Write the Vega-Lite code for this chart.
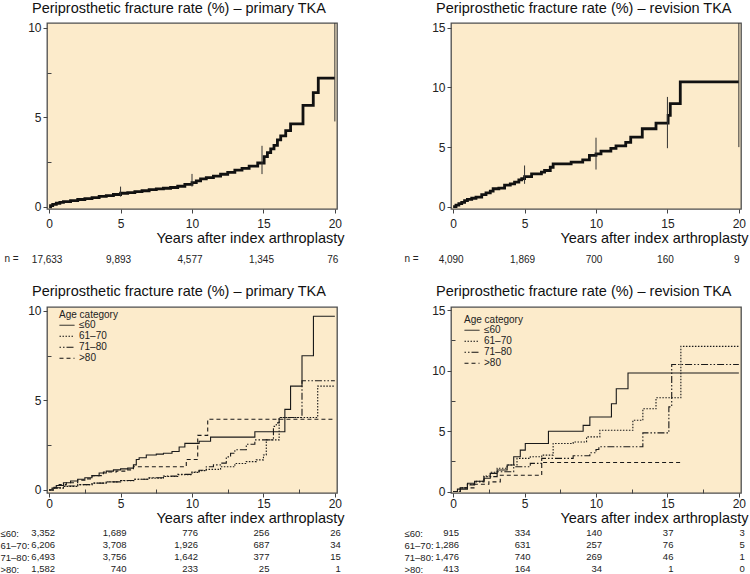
{
  "$schema": "https://vega.github.io/schema/vega-lite/v6.json",
  "padding": {"left": 0, "top": 0, "right": 2, "bottom": 0},
  "background": "white",
  "config": {
    "font": "Liberation Sans",
    "view": {"stroke": "#4d4d4d", "strokeWidth": 1.3, "fill": "#FCEBCB"},
    "axis": {"domain": false, "grid": false, "tickColor": "#444", "labelColor": "#222", "labelFontSize": 12, "titleColor": "#111", "titleFontWeight": "normal"},
    "title": {"fontWeight": "normal", "fontSize": 14.5, "color": "#111", "anchor": "start", "frame": "group", "dx": -15, "baseline": "alphabetic", "offset": 5},
    "legend": {"orient": "none", "titleFontSize": 10, "titleFontWeight": "normal", "titleColor": "#222", "labelFontSize": 10, "labelColor": "#222", "symbolType": "stroke", "symbolSize": 225, "symbolStrokeWidth": 1, "symbolStrokeColor": "#111", "clipHeight": 8.5, "rowPadding": 0, "titlePadding": 1, "labelOffset": 4, "padding": 0}
  },
  "columns": 2,
  "bounds": "flush",
  "spacing": {"row": 40, "column": 114},
  "resolve": {"scale": {"strokeDash": "independent"}, "legend": {"strokeDash": "independent"}},
  "datasets": {
    "p1": [
      {"t":0,"r":0},{"t":0.1,"r":0.07},{"t":0.25,"r":0.14},{"t":0.5,"r":0.2},{"t":0.75,"r":0.25},{"t":1,"r":0.29},{"t":1.5,"r":0.35},{"t":2,"r":0.41},{"t":2.5,"r":0.46},{"t":3,"r":0.52},{"t":3.5,"r":0.58},{"t":4,"r":0.63},{"t":4.5,"r":0.69},{"t":5,"r":0.76},{"t":5.5,"r":0.8},{"t":6,"r":0.85},{"t":6.5,"r":0.9},{"t":7,"r":0.96},{"t":7.5,"r":1.0},{"t":8,"r":1.04},{"t":8.5,"r":1.08},{"t":9,"r":1.15},{"t":9.5,"r":1.25},{"t":10,"r":1.35},{"t":10.3,"r":1.45},{"t":10.6,"r":1.56},{"t":11,"r":1.63},{"t":11.5,"r":1.72},{"t":12,"r":1.82},{"t":12.5,"r":1.93},{"t":13,"r":2.05},{"t":13.5,"r":2.15},{"t":14,"r":2.28},{"t":14.6,"r":2.45},{"t":15.05,"r":2.81},{"t":15.28,"r":3.03},{"t":15.51,"r":3.24},{"t":15.74,"r":3.43},{"t":15.98,"r":3.74},{"t":16.21,"r":3.97},{"t":16.56,"r":4.26},{"t":16.9,"r":4.64},{"t":17.77,"r":5.67},{"t":18.49,"r":6.38},{"t":18.84,"r":7.19},{"t":20,"r":7.19}
    ],
    "ci1": [
      {"t":5,"lo":0.57,"hi":1.13},{"t":10,"lo":1.13,"hi":1.84},{"t":14.9,"lo":1.83,"hi":3.41},{"t":20,"lo":4.77,"hi":10.5}
    ],
    "p2": [
      {"t":0,"r":0},{"t":0.2,"r":0.12},{"t":0.4,"r":0.25},{"t":0.6,"r":0.35},{"t":0.8,"r":0.5},{"t":1.0,"r":0.6},{"t":1.3,"r":0.7},{"t":1.6,"r":0.8},{"t":2.0,"r":1.0},{"t":2.3,"r":1.15},{"t":2.6,"r":1.3},{"t":2.8,"r":1.5},{"t":3.2,"r":1.55},{"t":3.6,"r":1.8},{"t":4.0,"r":1.9},{"t":4.3,"r":2.05},{"t":4.6,"r":2.25},{"t":4.8,"r":2.35},{"t":5.0,"r":2.52},{"t":5.49,"r":2.75},{"t":6.18,"r":2.89},{"t":6.4,"r":3.03},{"t":6.8,"r":3.3},{"t":7.0,"r":3.59},{"t":8.26,"r":3.73},{"t":9.07,"r":3.92},{"t":9.54,"r":4.29},{"t":10.0,"r":4.43},{"t":10.35,"r":4.65},{"t":11.04,"r":4.88},{"t":11.4,"r":5.1},{"t":12.08,"r":5.38},{"t":12.43,"r":5.83},{"t":13.24,"r":6.53},{"t":14.2,"r":7.0},{"t":15.05,"r":7.65},{"t":15.2,"r":8.63},{"t":15.9,"r":10.46},{"t":20,"r":10.46}
    ],
    "ci2": [
      {"t":5,"lo":1.91,"hi":3.45},{"t":10,"lo":3.11,"hi":5.78},{"t":15,"lo":4.9,"hi":9.2},{"t":20,"lo":4.99,"hi":15.5}
    ],
    "p3": [
      {"age":"≤60","t":0,"r":0},{"age":"≤60","t":0.2,"r":0.1},{"age":"≤60","t":0.5,"r":0.25},{"age":"≤60","t":1,"r":0.4},{"age":"≤60","t":1.5,"r":0.5},{"age":"≤60","t":2,"r":0.6},{"age":"≤60","t":2.5,"r":0.68},{"age":"≤60","t":3,"r":0.8},{"age":"≤60","t":3.5,"r":0.95},{"age":"≤60","t":4,"r":1.05},{"age":"≤60","t":4.5,"r":1.12},{"age":"≤60","t":5,"r":1.18},{"age":"≤60","t":5.5,"r":1.22},{"age":"≤60","t":5.9,"r":1.4},{"age":"≤60","t":6.1,"r":1.7},{"age":"≤60","t":6.3,"r":1.8},{"age":"≤60","t":6.8,"r":1.95},{"age":"≤60","t":7.5,"r":2.0},{"age":"≤60","t":8,"r":2.05},{"age":"≤60","t":8.6,"r":2.15},{"age":"≤60","t":9.1,"r":2.4},{"age":"≤60","t":9.5,"r":2.6},{"age":"≤60","t":10.5,"r":2.72},{"age":"≤60","t":11.3,"r":2.95},{"age":"≤60","t":14.4,"r":3.25},{"age":"≤60","t":16.5,"r":4.5},{"age":"≤60","t":16.9,"r":5.8},{"age":"≤60","t":17.7,"r":7.5},{"age":"≤60","t":18.5,"r":9.7},{"age":"≤60","t":20,"r":9.7},
      {"age":"61–70","t":0,"r":0},{"age":"61–70","t":0.3,"r":0.1},{"age":"61–70","t":1,"r":0.2},{"age":"61–70","t":2,"r":0.3},{"age":"61–70","t":3,"r":0.38},{"age":"61–70","t":4,"r":0.45},{"age":"61–70","t":5,"r":0.52},{"age":"61–70","t":6,"r":0.6},{"age":"61–70","t":7,"r":0.66},{"age":"61–70","t":8,"r":0.75},{"age":"61–70","t":9,"r":0.85},{"age":"61–70","t":10,"r":0.98},{"age":"61–70","t":10.5,"r":1.08},{"age":"61–70","t":11,"r":1.15},{"age":"61–70","t":12,"r":1.3},{"age":"61–70","t":13,"r":1.48},{"age":"61–70","t":13.8,"r":1.58},{"age":"61–70","t":14.5,"r":1.68},{"age":"61–70","t":15,"r":1.95},{"age":"61–70","t":15.2,"r":2.8},{"age":"61–70","t":16.1,"r":4.05},{"age":"61–70","t":18.8,"r":5.8},{"age":"61–70","t":20,"r":5.8},
      {"age":"71–80","t":0,"r":0},{"age":"71–80","t":0.3,"r":0.12},{"age":"71–80","t":1,"r":0.22},{"age":"71–80","t":2,"r":0.3},{"age":"71–80","t":3,"r":0.38},{"age":"71–80","t":4,"r":0.45},{"age":"71–80","t":5,"r":0.53},{"age":"71–80","t":6,"r":0.6},{"age":"71–80","t":7,"r":0.68},{"age":"71–80","t":8,"r":0.77},{"age":"71–80","t":9,"r":0.87},{"age":"71–80","t":10,"r":1.0},{"age":"71–80","t":10.5,"r":1.1},{"age":"71–80","t":11,"r":1.3},{"age":"71–80","t":11.5,"r":1.4},{"age":"71–80","t":12,"r":1.5},{"age":"71–80","t":12.4,"r":1.85},{"age":"71–80","t":12.7,"r":2.05},{"age":"71–80","t":13,"r":2.25},{"age":"71–80","t":13.8,"r":2.55},{"age":"71–80","t":14.4,"r":2.8},{"age":"71–80","t":15.7,"r":3.55},{"age":"71–80","t":15.9,"r":3.75},{"age":"71–80","t":16.1,"r":4.05},{"age":"71–80","t":17.7,"r":6.1},{"age":"71–80","t":20,"r":6.1},
      {"age":">80","t":0,"r":0},{"age":">80","t":0.3,"r":0.15},{"age":">80","t":0.7,"r":0.3},{"age":">80","t":1.2,"r":0.4},{"age":">80","t":2,"r":0.55},{"age":">80","t":2.5,"r":0.62},{"age":">80","t":3,"r":0.8},{"age":">80","t":3.8,"r":1.0},{"age":">80","t":4.7,"r":1.05},{"age":">80","t":5.4,"r":1.12},{"age":">80","t":5.9,"r":1.3},{"age":">80","t":9.6,"r":1.7},{"age":">80","t":10.4,"r":3.05},{"age":">80","t":11.1,"r":3.95},{"age":">80","t":20,"r":3.95}
    ],
    "p4": [
      {"age":"≤60","t":0,"r":0},{"age":"≤60","t":0.3,"r":0.2},{"age":"≤60","t":1,"r":0.68},{"age":"≤60","t":1.5,"r":0.85},{"age":"≤60","t":2.16,"r":1.1},{"age":"≤60","t":2.6,"r":1.5},{"age":"≤60","t":3.08,"r":1.78},{"age":"≤60","t":3.78,"r":2.19},{"age":"≤60","t":4.24,"r":2.87},{"age":"≤60","t":4.7,"r":3.42},{"age":"≤60","t":5.05,"r":3.97},{"age":"≤60","t":6.67,"r":4.98},{"age":"≤60","t":9.1,"r":5.47},{"age":"≤60","t":9.57,"r":6.16},{"age":"≤60","t":11.08,"r":7.25},{"age":"≤60","t":11.42,"r":8.49},{"age":"≤60","t":12.24,"r":9.8},{"age":"≤60","t":20,"r":9.8},
      {"age":"61–70","t":0,"r":0},{"age":"61–70","t":0.5,"r":0.3},{"age":"61–70","t":1,"r":0.6},{"age":"61–70","t":1.5,"r":0.85},{"age":"61–70","t":2.16,"r":1.29},{"age":"61–70","t":2.6,"r":1.6},{"age":"61–70","t":3.08,"r":1.92},{"age":"61–70","t":3.78,"r":2.2},{"age":"61–70","t":4.47,"r":2.74},{"age":"61–70","t":5.4,"r":2.87},{"age":"61–70","t":6.2,"r":3.01},{"age":"61–70","t":7.0,"r":3.97},{"age":"61–70","t":8.4,"r":4.1},{"age":"61–70","t":9.34,"r":4.52},{"age":"61–70","t":10.27,"r":5.06},{"age":"61–70","t":12.58,"r":5.89},{"age":"61–70","t":13.28,"r":6.84},{"age":"61–70","t":14.2,"r":7.75},{"age":"61–70","t":15.94,"r":12.0},{"age":"61–70","t":20,"r":12.0},
      {"age":"71–80","t":0,"r":0},{"age":"71–80","t":0.5,"r":0.3},{"age":"71–80","t":1,"r":0.55},{"age":"71–80","t":1.5,"r":0.8},{"age":"71–80","t":2.16,"r":1.23},{"age":"71–80","t":3.08,"r":1.64},{"age":"71–80","t":4.24,"r":2.05},{"age":"71–80","t":5.4,"r":2.33},{"age":"71–80","t":6.2,"r":2.74},{"age":"71–80","t":8.4,"r":2.96},{"age":"71–80","t":9.57,"r":3.2},{"age":"71–80","t":10.0,"r":3.48},{"age":"71–80","t":10.2,"r":3.7},{"age":"71–80","t":13.28,"r":4.85},{"age":"71–80","t":15.1,"r":7.0},{"age":"71–80","t":15.3,"r":10.5},{"age":"71–80","t":20,"r":10.5},
      {"age":">80","t":0,"r":0},{"age":">80","t":0.5,"r":0.3},{"age":">80","t":1.5,"r":0.6},{"age":">80","t":2.5,"r":0.8},{"age":">80","t":3.3,"r":1.35},{"age":">80","t":6.2,"r":2.4},{"age":">80","t":16.06,"r":2.4}
    ],
    "n1": [
      {"row":"n =","t":0,"n":"17,633"},{"row":"n =","t":5,"n":"9,893"},{"row":"n =","t":10,"n":"4,577"},{"row":"n =","t":15,"n":"1,345"},{"row":"n =","t":20,"n":"76"}
    ],
    "n2": [
      {"row":"n =","t":0,"n":"4,090"},{"row":"n =","t":5,"n":"1,869"},{"row":"n =","t":10,"n":"700"},{"row":"n =","t":15,"n":"160"},{"row":"n =","t":20,"n":"9"}
    ],
    "n3": [
      {"row":"≤60:","t":0,"n":"3,352"},{"row":"≤60:","t":5,"n":"1,689"},{"row":"≤60:","t":10,"n":"776"},{"row":"≤60:","t":15,"n":"256"},{"row":"≤60:","t":20,"n":"26"},
      {"row":"61–70:","t":0,"n":"6,206"},{"row":"61–70:","t":5,"n":"3,708"},{"row":"61–70:","t":10,"n":"1,926"},{"row":"61–70:","t":15,"n":"687"},{"row":"61–70:","t":20,"n":"34"},
      {"row":"71–80:","t":0,"n":"6,493"},{"row":"71–80:","t":5,"n":"3,756"},{"row":"71–80:","t":10,"n":"1,642"},{"row":"71–80:","t":15,"n":"377"},{"row":"71–80:","t":20,"n":"15"},
      {"row":">80:","t":0,"n":"1,582"},{"row":">80:","t":5,"n":"740"},{"row":">80:","t":10,"n":"233"},{"row":">80:","t":15,"n":"25"},{"row":">80:","t":20,"n":"1"}
    ],
    "n4": [
      {"row":"≤60:","t":0,"n":"915"},{"row":"≤60:","t":5,"n":"334"},{"row":"≤60:","t":10,"n":"140"},{"row":"≤60:","t":15,"n":"37"},{"row":"≤60:","t":20,"n":"3"},
      {"row":"61–70:","t":0,"n":"1,286"},{"row":"61–70:","t":5,"n":"631"},{"row":"61–70:","t":10,"n":"257"},{"row":"61–70:","t":15,"n":"76"},{"row":"61–70:","t":20,"n":"5"},
      {"row":"71–80:","t":0,"n":"1,476"},{"row":"71–80:","t":5,"n":"740"},{"row":"71–80:","t":10,"n":"269"},{"row":"71–80:","t":15,"n":"46"},{"row":"71–80:","t":20,"n":"1"},
      {"row":">80:","t":0,"n":"413"},{"row":">80:","t":5,"n":"164"},{"row":">80:","t":10,"n":"34"},{"row":">80:","t":15,"n":"1"},{"row":">80:","t":20,"n":"0"}
    ]
  },
  "concat": [
    {
      "width": 290, "height": 186,
      "title": {"text": "Periprosthetic fracture rate (%) – primary TKA"},
      "layer": [
        {
          "data": {"name": "p1"},
          "mark": {"type": "line", "interpolate": "step-after", "color": "#111", "strokeWidth": 2.8, "clip": true},
          "encoding": {
            "x": {"field": "t", "type": "quantitative", "scale": {"domain": [-0.15, 20.15], "nice": false, "zero": false},
              "axis": {"values": [0,2.5,5,7.5,10,12.5,15,17.5,20], "labelExpr": "datum.value % 5 == 0 ? datum.label : ''", "tickSize": {"condition": {"test": "datum.value % 5 != 0", "value": -4}, "value": 4}, "labelPadding": 5, "labelOverlap": false, "labelFlush": false, "title": "Years after index arthroplasty", "titleFontSize": 14.5, "titleAlign": "right", "titleAnchor": "end", "titleX": 297, "titlePadding": 2}},
            "y": {"field": "r", "type": "quantitative", "scale": {"domain": [-0.12, 10.27], "nice": false, "zero": false},
              "axis": {"values": [0,2.5,5,7.5,10], "labelExpr": "datum.value % 5 == 0 ? datum.label : ''", "tickSize": {"condition": {"test": "datum.value % 5 != 0", "value": -4}, "value": 4}, "labelPadding": 2, "labelOverlap": false, "title": null}}
          }
        },
        {
          "data": {"name": "ci1"},
          "mark": {"type": "rule", "color": "#333", "strokeWidth": 1, "clip": true},
          "encoding": {"x": {"field": "t", "type": "quantitative"}, "y": {"field": "lo", "type": "quantitative"}, "y2": {"field": "hi"}}
        }
      ]
    },
    {
      "width": 290, "height": 186,
      "title": {"text": "Periprosthetic fracture rate (%) – revision TKA"},
      "layer": [
        {
          "data": {"name": "p2"},
          "mark": {"type": "line", "interpolate": "step-after", "color": "#111", "strokeWidth": 2.8, "clip": true},
          "encoding": {
            "x": {"field": "t", "type": "quantitative", "scale": {"domain": [-0.15, 20.15], "nice": false, "zero": false},
              "axis": {"values": [0,2.5,5,7.5,10,12.5,15,17.5,20], "labelExpr": "datum.value % 5 == 0 ? datum.label : ''", "tickSize": {"condition": {"test": "datum.value % 5 != 0", "value": -4}, "value": 4}, "labelPadding": 5, "labelOverlap": false, "labelFlush": false, "title": "Years after index arthroplasty", "titleFontSize": 14.5, "titleAlign": "right", "titleAnchor": "end", "titleX": 297, "titlePadding": 2}},
            "y": {"field": "r", "type": "quantitative", "scale": {"domain": [-0.2, 15.4], "nice": false, "zero": false},
              "axis": {"values": [0,2.5,5,7.5,10,12.5,15], "labelExpr": "datum.value % 5 == 0 ? datum.label : ''", "tickSize": {"condition": {"test": "datum.value % 5 != 0", "value": -4}, "value": 4}, "labelPadding": 2, "labelOverlap": false, "title": null}}
          }
        },
        {
          "data": {"name": "ci2"},
          "mark": {"type": "rule", "color": "#333", "strokeWidth": 1, "clip": true},
          "encoding": {"x": {"field": "t", "type": "quantitative"}, "y": {"field": "lo", "type": "quantitative"}, "y2": {"field": "hi"}}
        }
      ]
    },
    {
      "width": 290, "height": 18,
      "view": {"stroke": null, "fill": null},
      "data": {"name": "n1"},
      "mark": {"type": "text", "fontSize": 10, "color": "#222", "align": "center", "dx": -2, "dy": 2},
      "encoding": {
        "x": {"field": "t", "type": "quantitative", "scale": {"domain": [-0.15, 20.15], "nice": false, "zero": false}, "axis": null},
        "y": {"field": "row", "type": "nominal", "axis": {"title": null, "domain": false, "ticks": false, "tickSize": 0, "labelAlign": "left", "labelPadding": 43, "labelFontSize": 10, "labelColor": "#222"}},
        "text": {"field": "n"}
      }
    },
    {
      "width": 290, "height": 18,
      "view": {"stroke": null, "fill": null},
      "data": {"name": "n2"},
      "mark": {"type": "text", "fontSize": 10, "color": "#222", "align": "center", "dx": -2, "dy": 2},
      "encoding": {
        "x": {"field": "t", "type": "quantitative", "scale": {"domain": [-0.15, 20.15], "nice": false, "zero": false}, "axis": null},
        "y": {"field": "row", "type": "nominal", "axis": {"title": null, "domain": false, "ticks": false, "tickSize": 0, "labelAlign": "left", "labelPadding": 47, "labelFontSize": 10, "labelColor": "#222"}},
        "text": {"field": "n"}
      }
    },
    {
      "width": 290, "height": 186,
      "title": {"text": "Periprosthetic fracture rate (%) – primary TKA"},
      "data": {"name": "p3"},
      "mark": {"type": "line", "interpolate": "step-after", "color": "#1a1a1a", "strokeWidth": 1.1, "clip": true},
      "encoding": {
        "x": {"field": "t", "type": "quantitative", "scale": {"domain": [-0.15, 20.15], "nice": false, "zero": false},
          "axis": {"values": [0,2.5,5,7.5,10,12.5,15,17.5,20], "labelExpr": "datum.value % 5 == 0 ? datum.label : ''", "tickSize": {"condition": {"test": "datum.value % 5 != 0", "value": -4}, "value": 4}, "labelPadding": 1, "labelOverlap": false, "labelFlush": false, "title": "Years after index arthroplasty", "titleFontSize": 14.5, "titleAlign": "right", "titleAnchor": "end", "titleX": 297, "titlePadding": 2}},
        "y": {"field": "r", "type": "quantitative", "scale": {"domain": [-0.17, 10.22], "nice": false, "zero": false},
          "axis": {"values": [0,2.5,5,7.5,10], "labelExpr": "datum.value % 5 == 0 ? datum.label : ''", "tickSize": {"condition": {"test": "datum.value % 5 != 0", "value": -4}, "value": 4}, "labelPadding": 2, "labelOverlap": false, "title": null}},
        "strokeDash": {"field": "age", "type": "nominal",
          "scale": {"domain": ["≤60", "61–70", "71–80", ">80"], "range": [[1, 0], [1.5, 1.5], [1.5, 2, 1.5, 2, 7, 2], [4, 3]]},
          "legend": {"title": "Age category", "legendX": 12, "legendY": 3}}
      }
    },
    {
      "width": 290, "height": 186,
      "title": {"text": "Periprosthetic fracture rate (%) – revision TKA"},
      "data": {"name": "p4"},
      "mark": {"type": "line", "interpolate": "step-after", "color": "#1a1a1a", "strokeWidth": 1.1, "clip": true},
      "encoding": {
        "x": {"field": "t", "type": "quantitative", "scale": {"domain": [-0.15, 20.15], "nice": false, "zero": false},
          "axis": {"values": [0,2.5,5,7.5,10,12.5,15,17.5,20], "labelExpr": "datum.value % 5 == 0 ? datum.label : ''", "tickSize": {"condition": {"test": "datum.value % 5 != 0", "value": -4}, "value": 4}, "labelPadding": 1, "labelOverlap": false, "labelFlush": false, "title": "Years after index arthroplasty", "titleFontSize": 14.5, "titleAlign": "right", "titleAnchor": "end", "titleX": 297, "titlePadding": 2}},
        "y": {"field": "r", "type": "quantitative", "scale": {"domain": [-0.12, 15.25], "nice": false, "zero": false},
          "axis": {"values": [0,2.5,5,7.5,10,12.5,15], "labelExpr": "datum.value % 5 == 0 ? datum.label : ''", "tickSize": {"condition": {"test": "datum.value % 5 != 0", "value": -4}, "value": 4}, "labelPadding": 2, "labelOverlap": false, "title": null}},
        "strokeDash": {"field": "age", "type": "nominal",
          "scale": {"domain": ["≤60", "61–70", "71–80", ">80"], "range": [[1, 0], [1.5, 1.5], [1.5, 2, 1.5, 2, 7, 2], [4, 3]]},
          "legend": {"title": "Age category", "legendX": 13, "legendY": 8}}
      }
    },
    {
      "width": 290, "height": 36,
      "view": {"stroke": null, "fill": null},
      "data": {"name": "n3"},
      "mark": {"type": "text", "fontSize": 9.5, "color": "#222", "align": "right", "dx": 6},
      "encoding": {
        "x": {"field": "t", "type": "quantitative", "scale": {"domain": [-0.15, 20.15], "nice": false, "zero": false}, "axis": null},
        "y": {"field": "row", "type": "nominal", "sort": ["≤60:", "61–70:", "71–80:", ">80:"], "scale": {"padding": 0}, "axis": {"title": null, "domain": false, "ticks": false, "tickSize": 0, "labelAlign": "left", "labelPadding": 47, "labelFontSize": 9.5, "labelColor": "#222"}},
        "text": {"field": "n"}
      }
    },
    {
      "width": 290, "height": 36,
      "view": {"stroke": null, "fill": null},
      "data": {"name": "n4"},
      "mark": {"type": "text", "fontSize": 9.5, "color": "#222", "align": "right", "dx": 6},
      "encoding": {
        "x": {"field": "t", "type": "quantitative", "scale": {"domain": [-0.15, 20.15], "nice": false, "zero": false}, "axis": null},
        "y": {"field": "row", "type": "nominal", "sort": ["≤60:", "61–70:", "71–80:", ">80:"], "scale": {"padding": 0}, "axis": {"title": null, "domain": false, "ticks": false, "tickSize": 0, "labelAlign": "left", "labelPadding": 47, "labelFontSize": 9.5, "labelColor": "#222"}},
        "text": {"field": "n"}
      }
    }
  ]
}
